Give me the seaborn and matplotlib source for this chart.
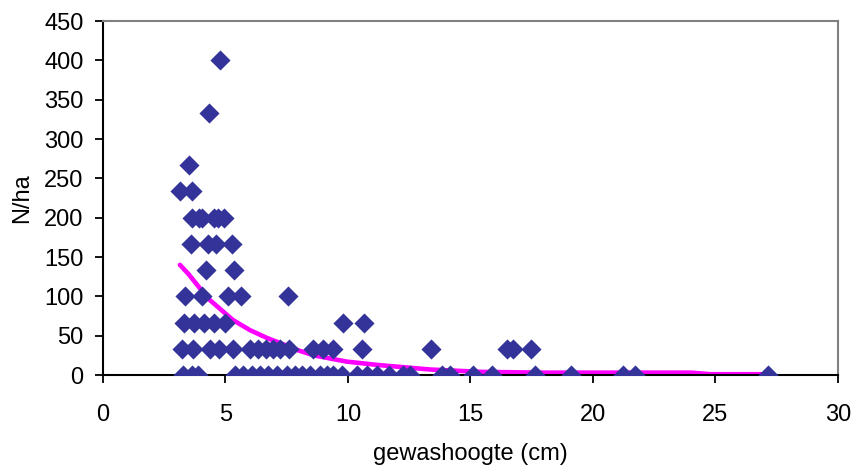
import matplotlib
matplotlib.use("Agg")
import matplotlib.pyplot as plt
import seaborn as sns
import pandas as pd

# ---- data ----
x_0 = [3.27, 3.62, 3.89, 5.39, 5.71, 6.08, 6.41, 6.73, 7.10, 7.51, 7.84, 8.12,
       8.45, 8.86, 9.14, 9.39, 9.76, 10.37, 10.78, 11.18, 11.67, 12.24, 12.53,
       13.84, 14.16, 15.10, 15.88, 17.63, 19.10, 21.22, 21.71, 27.14]
x_33 = [3.21, 3.69, 4.37, 4.75, 5.32, 6.00, 6.33, 6.65, 6.94, 7.22, 7.59,
        8.57, 8.98, 9.39, 10.57, 13.39, 16.47, 16.73, 17.47]
x_67 = [3.32, 3.73, 4.13, 4.54, 4.98, 9.78, 10.65]
x_100 = [3.35, 4.03, 5.11, 5.63, 7.56]
x_133 = [4.19, 5.35]
x_167 = [3.59, 4.27, 4.60, 5.25]
x_200 = [3.65, 3.90, 4.05, 4.55, 4.70, 4.95]
x_233 = [3.14, 3.62]
x_267 = [3.51]
x_333 = [4.33]
x_400 = [4.78]

levels = {0: x_0, 33.3: x_33, 66.7: x_67, 100: x_100, 133.3: x_133,
          166.7: x_167, 200: x_200, 233.3: x_233, 266.7: x_267,
          333.3: x_333, 400: x_400}

trend_x = [3.14, 3.5, 3.96, 4.37, 5.3, 6.0, 6.7, 7.2, 8.0, 8.6, 9.95, 11.3,
           13.35, 15.4, 17.9, 24.0, 24.8, 27.1]
trend_y = [140, 128, 110, 95, 70, 57, 47, 41, 31, 25, 17, 12.5,
           7, 4, 3, 3, 1.0, 1.0]

x_ticks = [0, 5, 10, 15, 20, 25, 30]
y_ticks = [0, 50, 100, 150, 200, 250, 300, 350, 400, 450]
x_label = "gewashoogte (cm)"
y_label = "N/ha"

# ---- build tables ----
rows = []
for yv, xs in levels.items():
    for xv in xs:
        rows.append((xv, yv))
pts = pd.DataFrame(rows, columns=["x", "y"])
trend = pd.DataFrame({"x": trend_x, "y": trend_y})

sns.set_theme(style="white")
plt.rcParams["font.family"] = ["Liberation Sans", "DejaVu Sans"]
plt.rcParams["text.color"] = "black"
plt.rcParams["axes.labelcolor"] = "black"

fig = plt.figure(figsize=(8.53, 4.68), dpi=100)
ax = fig.add_axes([103 / 853, 1 - 375 / 468, (838 - 103) / 853, (375 - 21) / 468])

sns.lineplot(data=trend, x="x", y="y", ax=ax, color="#FF00FF", linewidth=3.3,
             sort=False, zorder=2)
sns.scatterplot(data=pts, x="x", y="y", ax=ax, marker="D", color="#333399",
                s=105, linewidth=0, zorder=3)

ax.set_xlim(0, 30)
ax.set_ylim(0, 450)
ax.set_xticks(x_ticks)
ax.set_yticks(y_ticks)
ax.tick_params(axis="both", which="major", labelsize=17, colors="black",
               direction="out", length=6, width=1.3)
ax.tick_params(axis="x", pad=15, bottom=True)
ax.tick_params(axis="y", pad=8, left=True)
ax.set_xlabel(x_label, fontsize=17, labelpad=12, color="black")
ax.set_ylabel(y_label, fontsize=17, labelpad=8, color="black")
ax.grid(False)

for s in ["left", "bottom"]:
    ax.spines[s].set_color("black")
    ax.spines[s].set_linewidth(1.5)
for s in ["top", "right"]:
    ax.spines[s].set_color("#808080")
    ax.spines[s].set_linewidth(1.5)

fig.savefig("out.png", dpi=100)
